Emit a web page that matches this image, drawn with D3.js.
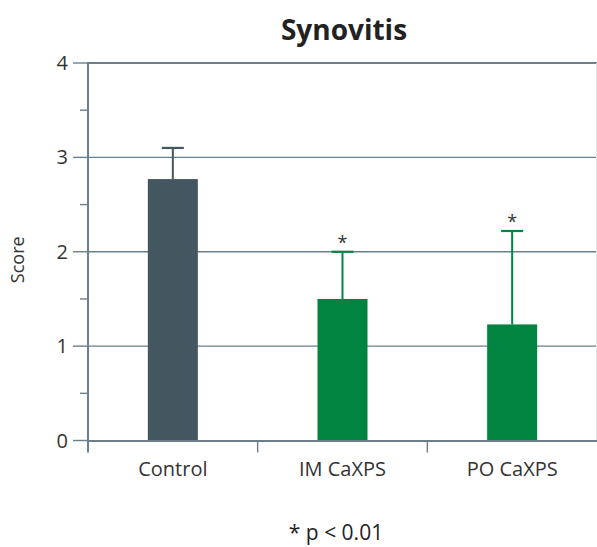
<!DOCTYPE html>
<html>
<head>
<meta charset="utf-8">
<script src="https://cdn.jsdelivr.net/npm/d3@7"></script>
<style>
  body { margin: 0; background: #fff; }
  svg { display: block; font-family: "Open Sans", "Noto Sans", sans-serif; }
</style>
</head>
<body>
<svg id="chart" width="597" height="547"></svg>
<script>
const categories = ["Control", "IM CaXPS", "PO CaXPS"];
const means = [2.77, 1.50, 1.23];
const errors = [0.33, 0.50, 0.99];
const significant = [false, true, true];
const barColors = ["#44565f", "#00843f", "#00843f"];
const yTicks = [0, 1, 2, 3, 4];
const yMinorTicks = [0.5, 1.5, 2.5, 3.5];

const svg = d3.select("#chart");
const margin = { top: 63, right: 0, bottom: 106, left: 88 };
const width = 597 - margin.left - margin.right;
const height = 547 - margin.top - margin.bottom;
const axisColor = "#6b7f8b";

const x = d3.scaleBand().domain(categories).range([margin.left, margin.left + width]).paddingInner(0).paddingOuter(0);
const y = d3.scaleLinear().domain([0, 4]).range([margin.top + height - 0.5, margin.top]);
const barWidth = 50;

// title
svg.append("text")
    .attr("x", 344).attr("y", 40)
    .attr("text-anchor", "middle")
    .attr("font-size", 28).attr("font-weight", "bold").attr("fill", "#222")
    .text("Synovitis");

// gridlines
svg.append("g").selectAll("line")
    .data(yTicks.filter(d => d > 0)).enter().append("line")
    .attr("x1", margin.left).attr("x2", margin.left + width)
    .attr("y1", d => y(d)).attr("y2", d => y(d))
    .attr("stroke", axisColor)
    .attr("stroke-width", d => d === 4 ? 2.2 : 1.4);

// faint right border
svg.append("line")
    .attr("x1", 596.5).attr("x2", 596.5)
    .attr("y1", y(4)).attr("y2", y(0))
    .attr("stroke", "#e2e6e9").attr("stroke-width", 1);

// bars
svg.append("g").selectAll("rect")
    .data(categories).enter().append("rect")
    .attr("x", d => x(d) + x.bandwidth() / 2 - barWidth / 2)
    .attr("width", barWidth)
    .attr("y", (d, i) => y(means[i]))
    .attr("height", (d, i) => y(0) - y(means[i]))
    .attr("fill", (d, i) => barColors[i]);

// error bars
const err = svg.append("g").selectAll("g")
    .data(categories).enter().append("g");
err.append("line")
    .attr("x1", d => x(d) + x.bandwidth() / 2).attr("x2", d => x(d) + x.bandwidth() / 2)
    .attr("y1", (d, i) => y(means[i])).attr("y2", (d, i) => y(means[i] + errors[i]))
    .attr("stroke", (d, i) => barColors[i]).attr("stroke-width", 2);
err.append("line")
    .attr("x1", d => x(d) + x.bandwidth() / 2 - 11).attr("x2", d => x(d) + x.bandwidth() / 2 + 11)
    .attr("y1", (d, i) => y(means[i] + errors[i])).attr("y2", (d, i) => y(means[i] + errors[i]))
    .attr("stroke", (d, i) => barColors[i]).attr("stroke-width", 2.2);
err.filter((d, i) => significant[i]).append("text")
    .attr("x", d => x(d) + x.bandwidth() / 2)
    .attr("y", d => { const i = categories.indexOf(d); return y(means[i] + errors[i]) - 3; })
    .attr("text-anchor", "middle")
    .attr("font-size", 18).attr("fill", "#333")
    .text("*");

// y axis
const yAxis = svg.append("g").attr("transform", `translate(${margin.left},0)`);
yAxis.append("line")
    .attr("x1", 0).attr("x2", 0)
    .attr("y1", y(4) - 1).attr("y2", y(0) + 12)
    .attr("stroke", axisColor).attr("stroke-width", 2);
yAxis.selectAll(".major").data(yTicks).enter().append("line")
    .attr("x1", -15).attr("x2", 0)
    .attr("y1", d => y(d)).attr("y2", d => y(d))
    .attr("stroke", axisColor).attr("stroke-width", 1.4);
yAxis.selectAll(".minor").data(yMinorTicks).enter().append("line")
    .attr("x1", -8).attr("x2", 0)
    .attr("y1", d => y(d)).attr("y2", d => y(d))
    .attr("stroke", axisColor).attr("stroke-width", 1.4);
yAxis.selectAll("text").data(yTicks).enter().append("text")
    .attr("x", -20).attr("y", d => y(d))
    .attr("dy", "0.35em")
    .attr("text-anchor", "end")
    .attr("font-size", 20).attr("fill", "#333")
    .text(d => d);

svg.append("text")
    .attr("transform", `translate(24,${(y(0) + y(4)) / 2 + 8}) rotate(-90)`)
    .attr("text-anchor", "middle")
    .attr("font-size", 18).attr("fill", "#333")
    .text("Score");

// x axis
const xAxis = svg.append("g");
xAxis.append("line")
    .attr("x1", margin.left).attr("x2", margin.left + width)
    .attr("y1", y(0) + 0.5).attr("y2", y(0) + 0.5)
    .attr("stroke", axisColor).attr("stroke-width", 2.2);
xAxis.selectAll(".sep").data(categories.slice(1)).enter().append("line")
    .attr("x1", d => x(d)).attr("x2", d => x(d))
    .attr("y1", y(0)).attr("y2", y(0) + 12)
    .attr("stroke", axisColor).attr("stroke-width", 1.4);
xAxis.selectAll("text").data(categories).enter().append("text")
    .attr("x", d => x(d) + x.bandwidth() / 2)
    .attr("y", 476)
    .attr("text-anchor", "middle")
    .attr("font-size", 20).attr("fill", "#333")
    .text(d => d);

// footnote
svg.append("text")
    .attr("x", 336).attr("y", 540)
    .attr("text-anchor", "middle")
    .attr("font-size", 21).attr("fill", "#222")
    .text("* p < 0.01");
</script>
</body>
</html>
